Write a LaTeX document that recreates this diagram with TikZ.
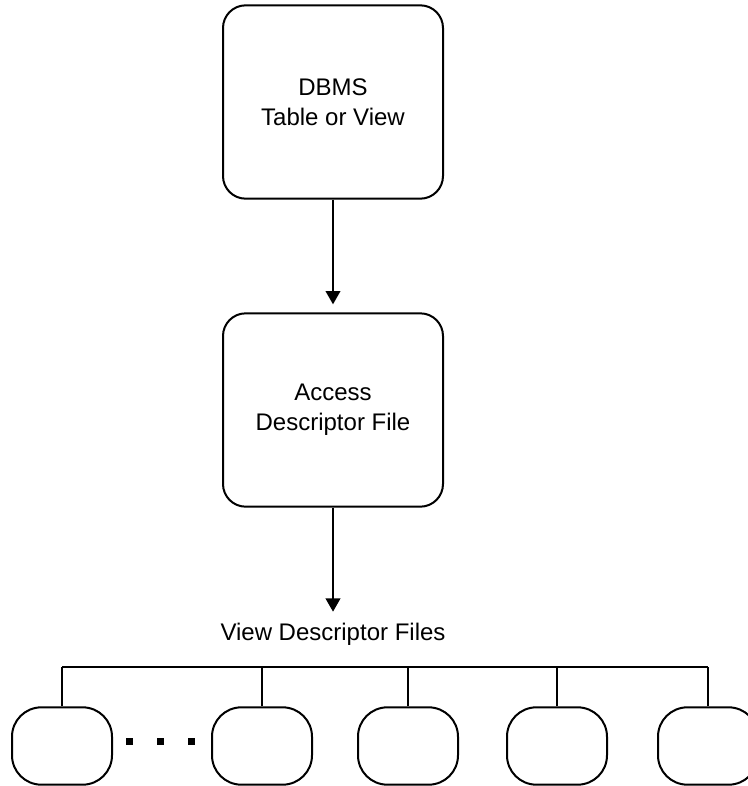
\documentclass[tikz,border=0pt]{standalone}
\usepackage{fontspec}
\setmainfont{Liberation Sans}
\usetikzlibrary{arrows.meta}

\begin{document}
\begin{tikzpicture}[x=0.75pt,y=-0.75pt,
  bigbox/.style={draw, line width=1.5pt, rounded corners=17pt, minimum width=165pt,
    minimum height=145pt, align=center, font=\fontsize{18}{22.5}\selectfont},
  viewbox/.style={draw, line width=1.5pt, rounded corners=22pt, minimum width=75pt,
    minimum height=58pt},
  link/.style={line width=1.5pt, -{Triangle[width=11pt,length=10pt]}}]
\useasboundingbox (0,0) rectangle (748,786);

\node[bigbox] (dbms) at (333,102) {DBMS\\Table or View};
\node[bigbox] (adf) at (333,410) {Access\\Descriptor File};
\node[font=\fontsize{18}{22.5}\selectfont, inner sep=8pt, anchor=base] (vdf) at (333,640) {View Descriptor Files};

\draw[link, shorten >=6pt] (dbms) -- (adf);
\draw[link] (adf) -- (vdf);

\foreach \x/\n in {62/1,262/2,408/3,557/4,708/5}
  \node[viewbox] (v\n) at (\x,746) {};

\coordinate (busL) at (62,667);
\coordinate (busR) at (708,667);
\draw[line width=1.5pt] (busL) -- (busR);
\foreach \n in {1,...,5}
  \draw[line width=1.5pt] (v\n.north) -- (v\n.north |- busL);

\foreach \x in {129,160,191}
  \fill (\x-3.5,737.5) rectangle (\x+3.5,744.5);
\end{tikzpicture}
\end{document}
